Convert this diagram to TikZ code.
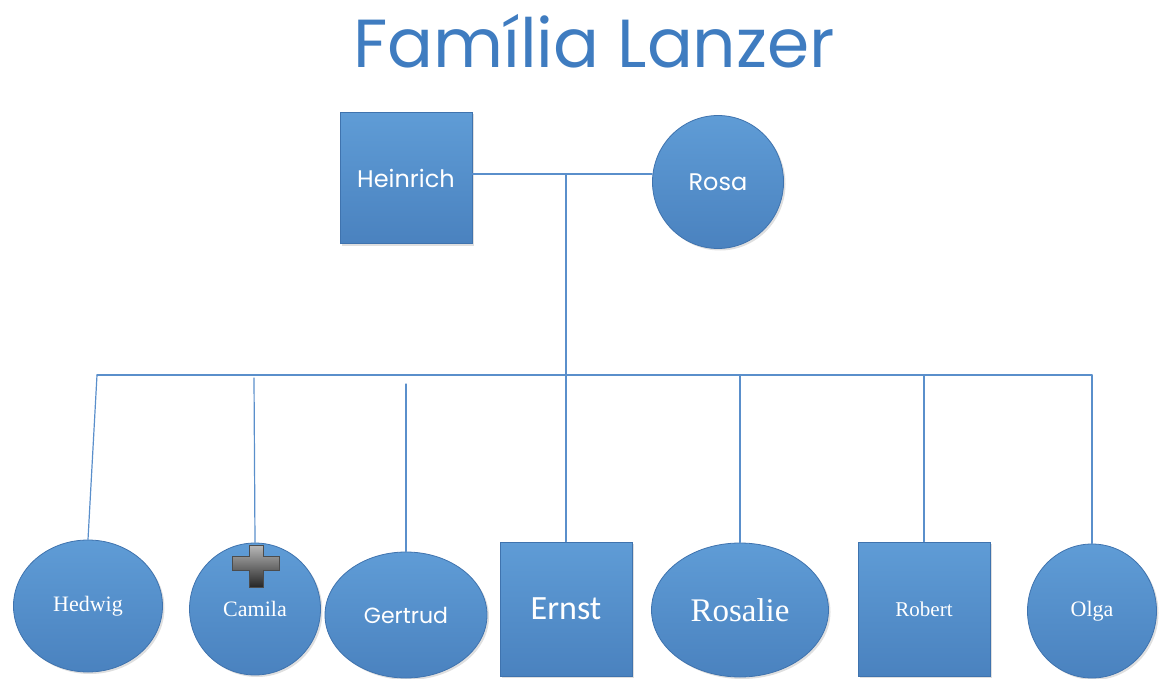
\documentclass[tikz,border=0pt]{standalone}
\usepackage{fontspec}
\usepackage{tikz}
\usetikzlibrary{shapes.geometric,shadows}
\newfontfamily\gothfont{Poppins}
\newfontfamily\calfont{Carlito}
\newfontfamily\romfont{Liberation Serif}
\definecolor{azulclaro}{HTML}{5F9CD6}
\definecolor{azulosc}{HTML}{4A82BF}
\definecolor{borde}{HTML}{3F73AE}
\definecolor{linea}{HTML}{5A8FCB}
\definecolor{titulo}{HTML}{3F7CC0}

\begin{document}
\begin{tikzpicture}[x=1pt,y=-1pt,line cap=round,
  persona/.style={draw=borde,line width=0.8pt,top color=azulclaro,bottom color=azulosc,
    text=white,inner sep=0pt,drop shadow={opacity=0.25,shadow xshift=2pt,shadow yshift=-2pt}},
  varon/.style={persona,rectangle},
  mujer/.style={persona,ellipse},
  rama/.style={linea,line width=1.2pt}]
  \useasboundingbox (0,0) rectangle (1167,679);
  % --- titulo ---
  \node[titulo,anchor=base] (tit) at (594,68) {\gothfont\fontsize{68}{70}\selectfont Família Lanzer};
  % --- padres ---
  \node[varon,minimum width=132pt,minimum height=131pt] (heinrich) at (406,178)
    {\gothfont\fontsize{24}{26}\selectfont Heinrich};
  \node[mujer,minimum width=131pt,minimum height=133pt] (rosa) at (718,182)
    {\gothfont\fontsize{24}{26}\selectfont Rosa};
  \coordinate (casal) at (566,174);
  \coordinate (barraI) at (97,375);
  \coordinate (barraD) at (1092,375);
  \draw[rama] (heinrich.east |- casal) -- (rosa.west |- casal);
  \draw[rama] (barraI) -- (barraD);
  % --- filhos ---
  \node[mujer,minimum width=149pt,minimum height=132pt] (hedwig) at (88,606)
    {\romfont\fontsize{22}{24}\selectfont Hedwig};
  \node[mujer,minimum width=131pt,minimum height=132pt] (camila) at (255,609)
    {\romfont\fontsize{22}{24}\selectfont Camila};
  \node[mujer,minimum width=162pt,minimum height=126pt] (gertrud) at (406,615)
    {\gothfont\fontsize{22}{24}\selectfont Gertrud};
  \node[varon,minimum width=132pt,minimum height=134pt] (ernst) at (566,609)
    {\calfont\fontsize{34}{36}\selectfont Ernst};
  \node[mujer,minimum width=177pt,minimum height=134pt] (rosalie) at (740,610)
    {\romfont\fontsize{33}{35}\selectfont Rosalie};
  \node[varon,minimum width=132pt,minimum height=134pt] (robert) at (924,609)
    {\romfont\fontsize{21}{23}\selectfont Robert};
  \node[mujer,minimum width=129pt,minimum height=134pt] (olga) at (1092,611)
    {\romfont\fontsize{22}{24}\selectfont Olga};
  \coordinate (cam) at (254,378);
  \coordinate (ger) at (406,384);
  \draw[rama] (barraI) -- (hedwig.north);
  \draw[rama] (cam) -- (camila.north);
  \draw[rama] (ger) -- (gertrud.north);
  \draw[rama] (casal) -- (ernst.north);
  \draw[rama] (rosalie.north |- barraI) -- (rosalie.north);
  \draw[rama] (robert.north |- barraI) -- (robert.north);
  \draw[rama] (barraD) -- (olga.north);
  % --- cruz ---
  \shade[top color=gray!55,bottom color=black!85,draw=black!70,line width=0.6pt]
    (249,545) -- (263,545) -- (263,556) -- (279,556) -- (279,570) -- (263,570)
    -- (263,587) -- (249,587) -- (249,570) -- (232,570) -- (232,556) -- (249,556) -- cycle;
\end{tikzpicture}
\end{document}
